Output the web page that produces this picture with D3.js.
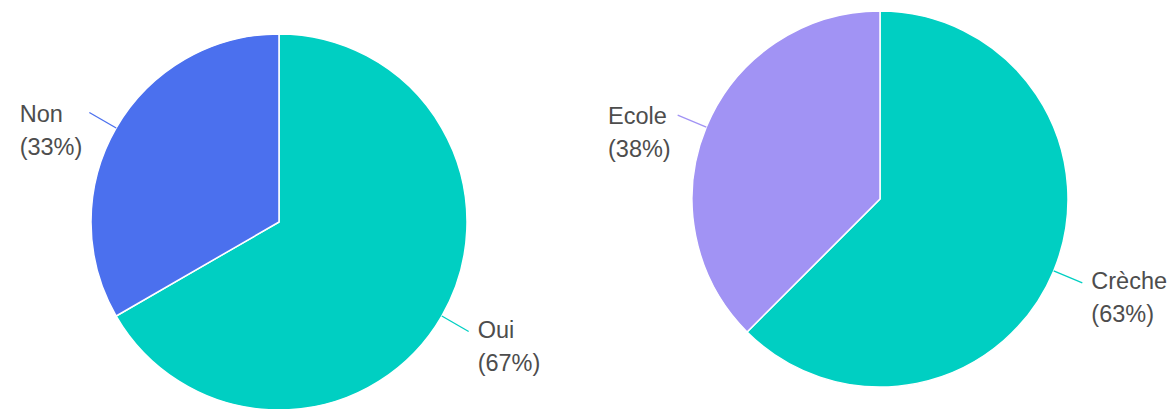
<!DOCTYPE html>
<html>
<head>
<meta charset="utf-8">
<script src="https://cdn.jsdelivr.net/npm/d3@7"></script>
<style>
  html, body { margin: 0; padding: 0; background: #fff; }
  svg { display: block; }
  text { font-family: "Liberation Sans", Arial, sans-serif; }
</style>
</head>
<body>
<svg id="chart" width="1167" height="409"></svg>
<script>
// Data
const leftCategories = ["Oui", "Non"];
const leftValues = [2, 1];
const rightCategories = ["Crèche", "Ecole"];
const rightValues = [5, 3];

const leftColors = ["#00CFC2", "#4B70EE"];
const rightColors = ["#00CFC2", "#A193F4"];

const svg = d3.select("#chart");

function drawPie(cx, cy, r, cats, vals, colors) {
  const total = d3.sum(vals);
  const pie = d3.pie().sort(null).value(d => d.v);
  const data = pie(cats.map((c, i) => ({ c, v: vals[i], col: colors[i] })));
  const arc = d3.arc().innerRadius(0).outerRadius(r);
  const g = svg.append("g").attr("transform", `translate(${cx},${cy})`);
  g.selectAll("path.slice").data(data).enter().append("path")
    .attr("class", "slice")
    .attr("d", arc)
    .attr("fill", d => d.data.col)
    .attr("stroke", "#fff")
    .attr("stroke-width", 1.5)
    .attr("stroke-linejoin", "round");

  const rIn = r, rOut = r + 31;
  data.forEach(d => {
    const a = (d.startAngle + d.endAngle) / 2;
    const sx = Math.sin(a), sy = -Math.cos(a);
    const x1 = sx * rIn, y1 = sy * rIn, x2 = sx * rOut, y2 = sy * rOut;
    g.append("line")
      .attr("x1", x1).attr("y1", y1).attr("x2", x2).attr("y2", y2)
      .attr("stroke", d.data.col).attr("stroke-width", 1.3);
    const right = sx > 0;
    const t = g.append("text")
      .attr("fill", "#4d4d4d")
      .attr("font-size", 23.5);
    const pct = Math.round(d.data.v / total * 100);
    const l1 = t.append("tspan").text(d.data.c);
    const l2 = t.append("tspan").text(`(${pct}%)`);
    const w = Math.max(l1.node().getComputedTextLength(), l2.node().getComputedTextLength());
    const tx = right ? x2 + 9 : x2 - 7 - w;
    const dy = right ? 6 : 9;
    l1.attr("x", tx).attr("y", y2 + dy);
    l2.attr("x", tx).attr("y", y2 + dy + 33);
  });
}

drawPie(279, 222, 188, leftCategories, leftValues, leftColors);
drawPie(880, 199, 188, rightCategories, rightValues, rightColors);
</script>
</body>
</html>
